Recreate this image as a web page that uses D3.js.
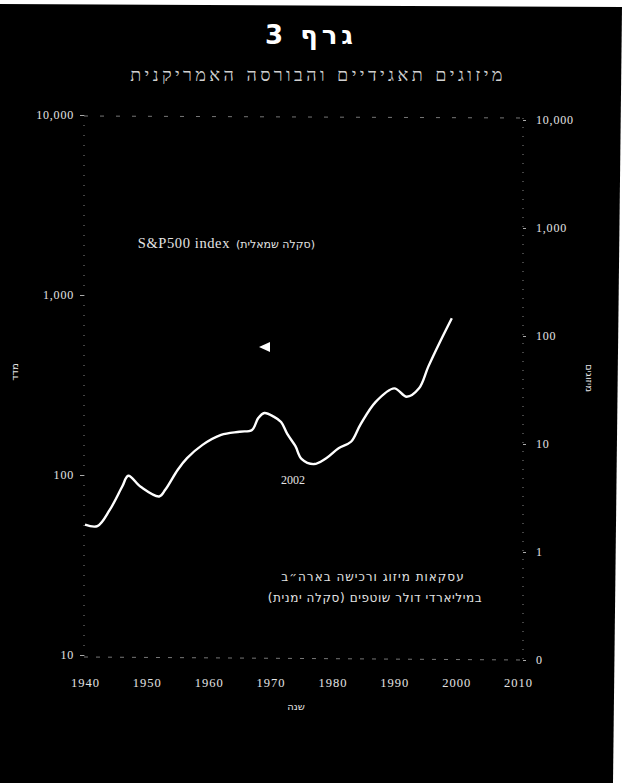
<!DOCTYPE html>
<html><head><meta charset="utf-8">
<script src="https://cdn.jsdelivr.net/npm/d3@7"></script>
<style>html,body{margin:0;padding:0;background:#fff;}svg{display:block;}</style>
</head><body>
<svg id="c" width="625" height="783"></svg>
<script>
const years = [1940,1942,1944,1946,1947,1949,1952,1953,1955,1956.5,1959,1962,1965,1967,1968,1969,1970.5,1971.7,1972.7,1974,1975,1977,1979,1981,1983,1984.5,1987,1990,1992,1994,1995.5,1997.4,1999.3];
const spValues = [53,52,64,86,99,86,76,83,107,124,147,167,174,178,207,221,211,197,169,145,123,115,124,141,153,190,255,303,272,303,400,550,743];
const leftTicks = [10,100,1000,10000];
const leftTickLabels = ["10","100","1,000","10,000"];
const rightTicks = [0.1,1,10,100,1000,10000];
const rightTickLabels = ["0","1","10","100","1,000","10,000"];
const xTicks = [1940,1950,1960,1970,1980,1990,2000,2010];

const svg = d3.select("#c");
svg.append("path").attr("d","M0,4 L622,7 L613,783 L0,783 Z").attr("fill","#000");

const x = d3.scaleLinear().domain([1940,2010]).range([85,518]);
const yL = d3.scaleLog().domain([10,10000]).range([655,115]);
const yR = d3.scaleLog().domain([0.1,10000]).range([660,120]);

const fg = "#e4e4e4";
// title
svg.append("text").attr("x",311).attr("y",44).attr("text-anchor","middle")
  .attr("font-family","DejaVu Sans").attr("font-weight","bold").attr("font-size",26)
  .attr("letter-spacing",4).attr("fill","#fff").text("גרף 3");
svg.append("text").attr("x",318).attr("y",81).attr("text-anchor","middle")
  .attr("font-family","DejaVu Sans").attr("font-weight","300").attr("font-size",18).attr("letter-spacing",3.4)
  .attr("fill","#d0d0d0").text("מיזוגים תאגידיים והבורסה האמריקנית");

// frame lines (dotted)
svg.append("line").attr("x1",84).attr("x2",84).attr("y1",115).attr("y2",658)
  .attr("stroke","#888").attr("stroke-width",1).attr("stroke-dasharray","1,9");
svg.append("line").attr("x1",523).attr("x2",523).attr("y1",118).attr("y2",660)
  .attr("stroke","#888").attr("stroke-width",1).attr("stroke-dasharray","1,8");
svg.append("line").attr("x1",84).attr("x2",523).attr("y1",116).attr("y2",118)
  .attr("stroke","#777").attr("stroke-width",1).attr("stroke-dasharray","4,12");
svg.append("line").attr("x1",84).attr("x2",523).attr("y1",657).attr("y2",660)
  .attr("stroke","#777").attr("stroke-width",1).attr("stroke-dasharray","4,8");

// left axis
const la = svg.append("g").attr("transform","translate(84,0)")
  .call(d3.axisLeft(yL).tickValues(leftTicks).tickSize(4).tickPadding(6)
    .tickFormat((d,i)=>leftTickLabels[i]));
la.select(".domain").remove();
la.selectAll("line").attr("stroke","#aaa");
la.selectAll("text").attr("fill",fg).attr("font-family","Liberation Serif").attr("font-size",12).attr("letter-spacing",0.8);

// right axis
const ra = svg.append("g").attr("transform","translate(523,0)")
  .call(d3.axisRight(yR).tickValues(rightTicks).tickSize(3).tickPadding(10)
    .tickFormat((d,i)=>rightTickLabels[i]));
ra.select(".domain").remove();
ra.selectAll("line").attr("stroke","#aaa");
ra.selectAll("text").attr("fill",fg).attr("font-family","Liberation Serif").attr("font-size",12).attr("letter-spacing",0.8);

// x axis
const xa = svg.append("g").attr("transform","translate(0,660)")
  .call(d3.axisBottom(x).tickValues(xTicks).tickSize(0).tickPadding(18).tickFormat(d3.format("d")));
xa.select(".domain").remove();
xa.selectAll("text").attr("fill",fg).attr("font-family","Liberation Serif").attr("font-size",12.5).attr("letter-spacing",1);

// axis titles
svg.append("text").attr("transform","translate(18,372) rotate(-90)").attr("text-anchor","middle")
  .attr("font-family","DejaVu Sans").attr("font-size",10).attr("fill",fg).text("מדד");
svg.append("text").attr("transform","translate(586,378) rotate(90)").attr("text-anchor","middle")
  .attr("font-family","DejaVu Sans").attr("font-size",10).attr("fill",fg).text("מיזוגים");
svg.append("text").attr("x",296).attr("y",710).attr("text-anchor","middle")
  .attr("font-family","DejaVu Sans").attr("font-size",10).attr("fill",fg).text("שנה");

// S&P line
const line = d3.line().x((d,i)=>x(years[i])).y(d=>yL(d)).curve(d3.curveCatmullRom.alpha(0.5));
svg.append("path").datum(spValues).attr("d",line).attr("fill","none")
  .attr("stroke","#fff").attr("stroke-width",2.4).attr("stroke-linejoin","round");

// annotations
svg.append("text").attr("x",230).attr("y",248).attr("text-anchor","end").attr("font-family","Liberation Serif")
  .attr("font-size",14.5).attr("letter-spacing",0.6).attr("fill",fg).text("S&P500 index");
svg.append("text").attr("x",236).attr("y",248).attr("text-anchor","start").attr("font-family","DejaVu Sans")
  .attr("font-size",11).attr("fill",fg).text("(סקלה שמאלית)");
svg.append("path").attr("d","M259,347 L270,342 L270,352 Z").attr("fill","#fff");
svg.append("text").attr("x",293).attr("y",484).attr("text-anchor","middle").attr("font-family","Liberation Serif")
  .attr("font-size",12).attr("fill",fg).text("2002");
svg.append("text").attr("x",373).attr("y",581).attr("text-anchor","middle").attr("font-family","DejaVu Sans")
  .attr("font-size",12).attr("letter-spacing",1).attr("fill",fg).text("עסקאות מיזוג ורכישה בארה״ב");
svg.append("text").attr("x",375).attr("y",602).attr("text-anchor","middle").attr("font-family","DejaVu Sans")
  .attr("font-size",12).attr("letter-spacing",0.6).attr("fill",fg).text("במיליארדי דולר שוטפים (סקלה ימנית)");
</script>
</body></html>
